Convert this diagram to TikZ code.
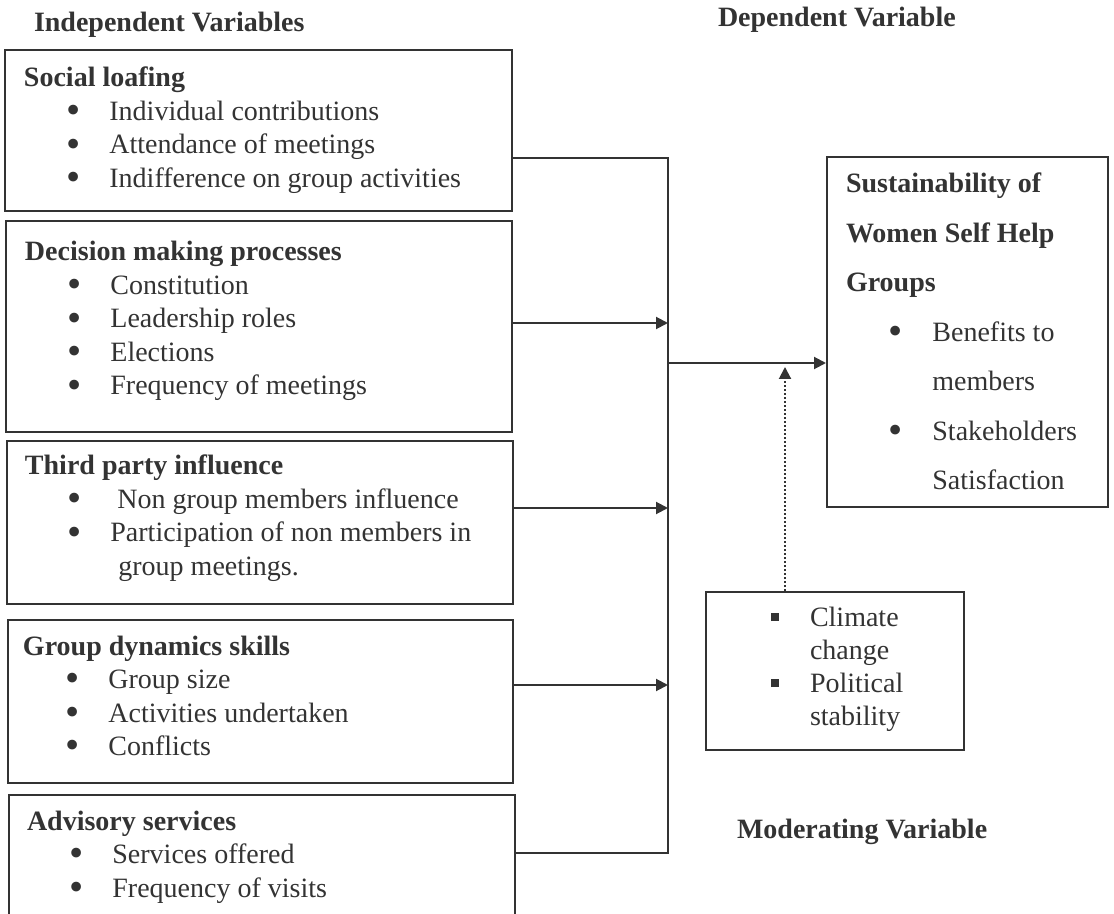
\documentclass[tikz,border=0pt]{standalone}
\usepackage{fontspec}
\setmainfont{Liberation Serif}
\usepackage{tikz}
\usetikzlibrary{arrows.meta,fit}
\definecolor{ink}{HTML}{333333}
\newcommand{\bigdot}{\smash{\raisebox{-1.6pt}{\scalebox{1.45}{\textbullet}}}}

\begin{document}
\begin{tikzpicture}[x=.5pt, y=-.5pt, line width=1pt, color=ink,
    varbox/.style={draw, rectangle, inner sep=0pt},
    boxtext/.style={anchor=base west, inner sep=0pt, font=\fontsize{14}{16.75}\selectfont},
    heading/.style={anchor=base west, inner sep=0pt, font=\fontsize{14}{16.75}\selectfont\bfseries},
    flowarrow/.style={-{Triangle[length=6pt,width=6pt]}},
    modarrow/.style={flowarrow, dash pattern=on 1pt off 1pt}]
             \useasboundingbox (0,0) rectangle (1114,914);
             \clip (0,0) rectangle (1114,914);

             \node[heading] (indep) at (33,32) {Independent Variables};
             \node[heading] (dep) at (717,27) {Dependent Variable};
             \node[heading] (mod) at (736,838) {Moderating Variable};

             \node[varbox, fit={(5,50) (512,211)}] (social) {};
             \node[boxtext] (social text) at (23,87) {\begin{tabular}[t]{@{\hspace{21.3pt}}c@{\hspace{14.3pt}}l}
                 \multicolumn{2}{@{}l}{\textbf{Social loafing}}\\
                 \bigdot & Individual contributions\\
                 \bigdot & Attendance of meetings\\
                 \bigdot & Indifference on group activities
               \end{tabular}};

             \node[varbox, fit={(6,221) (512,432)}] (decision) {};
             \node[boxtext] (decision text) at (24,261) {\begin{tabular}[t]{@{\hspace{21.3pt}}c@{\hspace{14.3pt}}l}
                 \multicolumn{2}{@{}l}{\textbf{Decision making processes}}\\
                 \bigdot & Constitution\\
                 \bigdot & Leadership roles\\
                 \bigdot & Elections\\
                 \bigdot & Frequency of meetings
               \end{tabular}};

             \node[varbox, fit={(7,441) (513,604)}] (third) {};
             \node[boxtext] (third text) at (24,475) {\begin{tabular}[t]{@{\hspace{21.3pt}}c@{\hspace{14.3pt}}l}
                 \multicolumn{2}{@{}l}{\textbf{Third party influence}}\\
                 \bigdot & \hspace{3.5pt}Non group members influence\\
                 \bigdot & Participation of non members in\\
                         & \hspace{4pt}group meetings.
               \end{tabular}};

             \node[varbox, fit={(8,620) (513,783)}] (group) {};
             \node[boxtext] (group text) at (22,655) {\begin{tabular}[t]{@{\hspace{21.3pt}}c@{\hspace{14.3pt}}l}
                 \multicolumn{2}{@{}l}{\textbf{Group dynamics skills}}\\
                 \bigdot & Group size\\
                 \bigdot & Activities undertaken\\
                 \bigdot & Conflicts
               \end{tabular}};

             \node[varbox, fit={(9,795) (515,960)}] (advisory) {};
             \node[boxtext] (advisory text) at (26,830) {\begin{tabular}[t]{@{\hspace{21.3pt}}c@{\hspace{14.3pt}}l}
                 \multicolumn{2}{@{}l}{\textbf{Advisory services}}\\
                 \bigdot & Services offered\\
                 \bigdot & Frequency of visits
               \end{tabular}};

             \node[varbox, fit={(827,157) (1108,507)}] (dependent) {};
             \node[boxtext, font=\fontsize{14}{24.75}\selectfont] (dependent text) at (845,193) {\begin{tabular}[t]{@{\hspace{21.3pt}}c@{\hspace{14.8pt}}l}
                 \multicolumn{2}{@{}l}{\textbf{Sustainability of}}\\
                 \multicolumn{2}{@{}l}{\textbf{Women Self Help}}\\
                 \multicolumn{2}{@{}l}{\textbf{Groups}}\\
                 \bigdot & Benefits to\\
                         & members\\
                 \bigdot & Stakeholders\\
                         & Satisfaction
               \end{tabular}};

             \node[varbox, fit={(706,592) (964,750)}] (moderating) {};
             \node[boxtext, font=\fontsize{14}{16.5}\selectfont] (moderating text) at (770,626) {\begin{tabular}[t]{@{}c@{\hspace{15.5pt}}l}
                 \rule[2.5pt]{4pt}{4pt} & Climate\\
                                        & change\\
                 \rule[2.5pt]{4pt}{4pt} & Political\\
                                        & stability
               \end{tabular}};

             % collecting line
             \coordinate (bus top) at (668,158);
             \coordinate (bus bot) at (668,853);
             \coordinate (j0) at (668,363);
             \coordinate (j1) at (668,323);
             \coordinate (j2) at (668,508);
             \coordinate (j3) at (668,685);
             \coordinate (m0) at (785,367);

             \draw (social.east |- bus top) -- (bus top) -- (bus bot) -- (advisory.east |- bus bot);
             \draw[flowarrow] (decision.east |- j1) -- (j1);
             \draw[flowarrow] (third.east |- j2) -- (j2);
             \draw[flowarrow] (group.east |- j3) -- (j3);
             \draw[flowarrow] (j0) -- (dependent.west |- j0);
             \draw[modarrow] (moderating.north -| m0) -- (m0);
\end{tikzpicture}
\end{document}
